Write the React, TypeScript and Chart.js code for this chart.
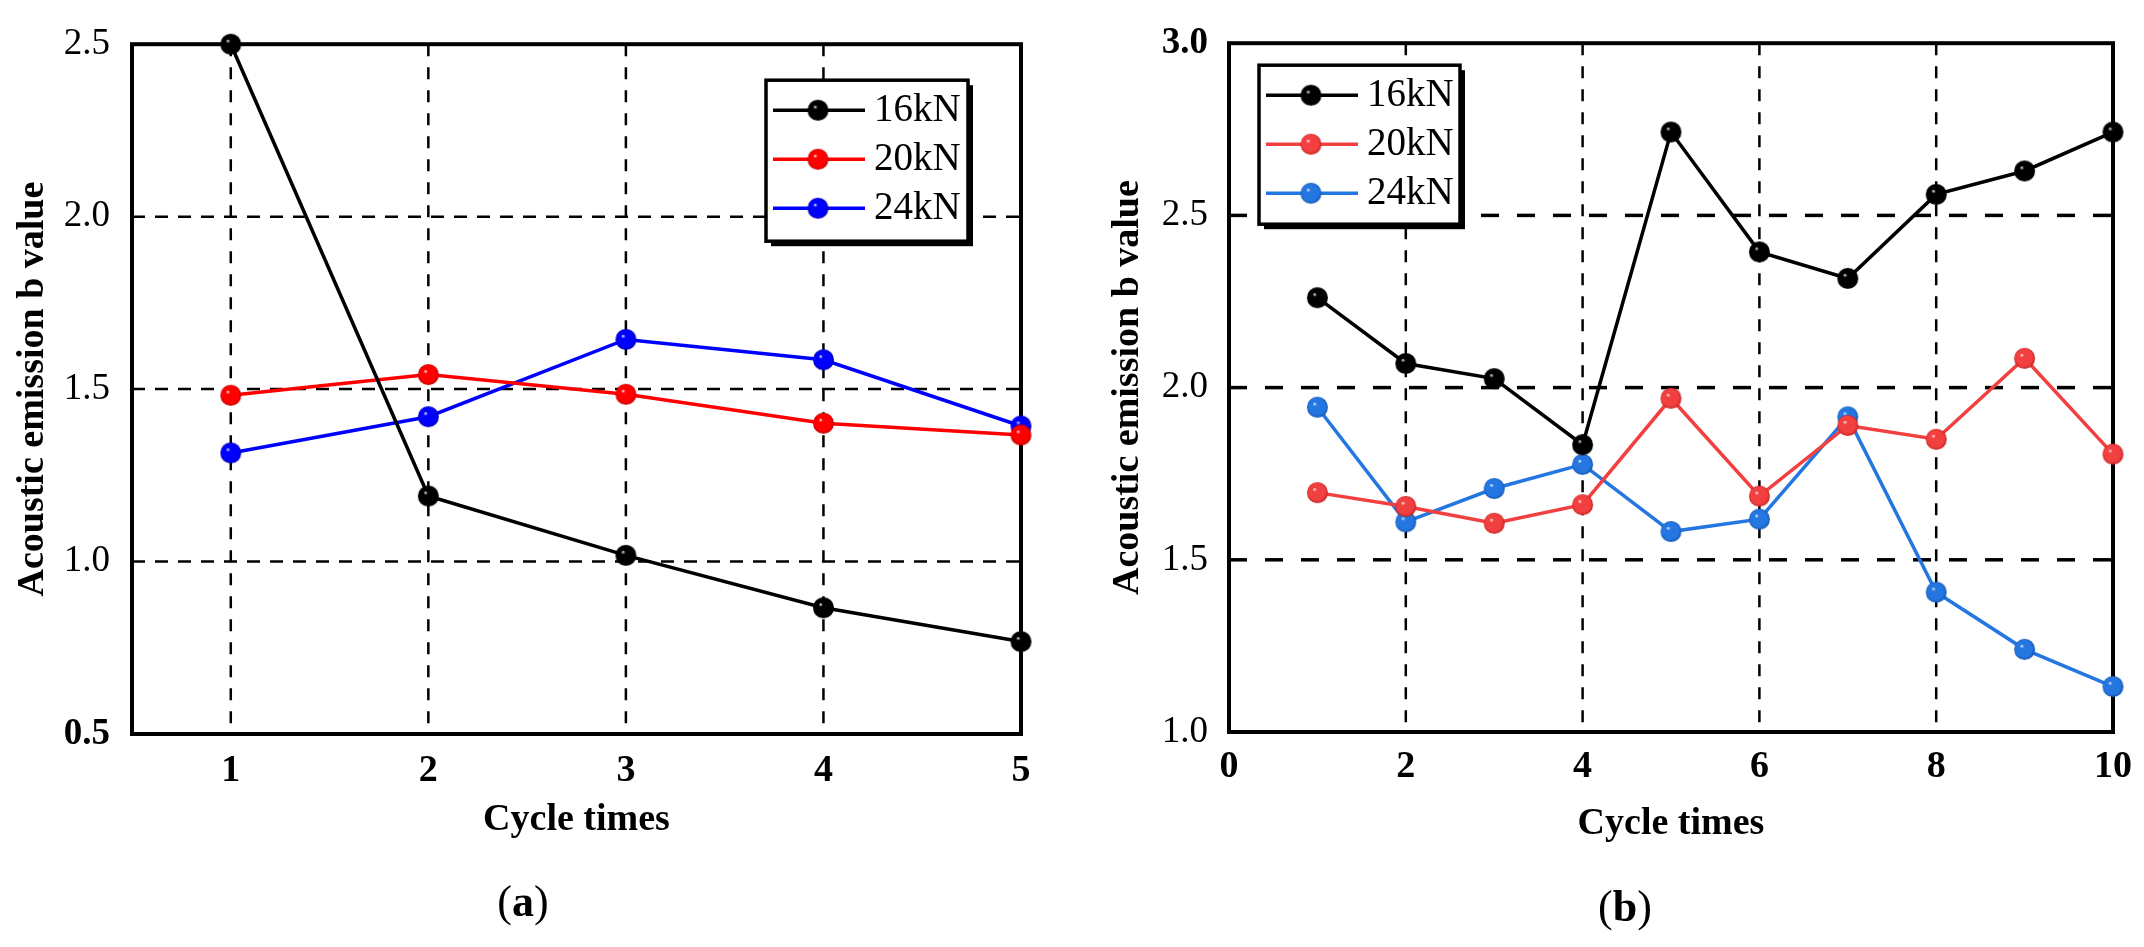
import React, { useEffect, useRef } from "react";
import { Chart, registerables } from "chart.js";

Chart.register(...registerables);

// ---------- data ----------
const seriesLabels = ["16kN", "20kN", "24kN"];

const cyclesA = [1, 2, 3, 4, 5];
const a16 = [2.5, 1.19, 1.018, 0.866, 0.768];
const a20 = [1.482, 1.542, 1.485, 1.401, 1.367];
const a24 = [1.315, 1.42, 1.644, 1.585, 1.393];
const xTicksA = [1, 2, 3, 4, 5];
const yTicksA = [0.5, 1.0, 1.5, 2.0, 2.5];

const cyclesB = [1, 2, 3, 4, 5, 6, 7, 8, 9, 10];
const b16 = [2.261, 2.07, 2.026, 1.834, 2.742, 2.394, 2.317, 2.561, 2.629, 2.742];
const b20 = [1.695, 1.655, 1.606, 1.66, 1.969, 1.685, 1.89, 1.85, 2.085, 1.807];
const b24 = [1.943, 1.61, 1.707, 1.777, 1.582, 1.618, 1.915, 1.406, 1.24, 1.132];
const xTicksB = [0, 2, 4, 6, 8, 10];
const yTicksB = [1.0, 1.5, 2.0, 2.5, 3.0];

const xTitle = "Cycle times";
const yTitle = "Acoustic emission b value";

// ---------- styling ----------
const SERIF = "'Liberation Serif', 'Times New Roman', serif";

function sphere(color: string, dark: string, r: number): HTMLCanvasElement {
  const c = document.createElement("canvas");
  const s = Math.ceil(r * 2 + 2);
  c.width = s;
  c.height = s;
  const g = c.getContext("2d")!;
  const cx = s / 2;
  const cy = s / 2;
  const grad = g.createRadialGradient(cx - r * 0.3, cy - r * 0.35, 0, cx, cy, r);
  grad.addColorStop(0, "rgba(255,255,255,0.95)");
  grad.addColorStop(0.2, color);
  grad.addColorStop(0.8, color);
  grad.addColorStop(1, dark);
  g.beginPath();
  g.arc(cx, cy, r, 0, Math.PI * 2);
  g.fillStyle = grad;
  g.fill();
  return c;
}

type GridOpts = {
  xTicks: number[];
  yTicks: number[];
  vDash: number[];
  hDash: number[];
  vWidth: number;
  hWidth: number;
  frameWidth: number;
};

function gridFramePlugin(o: GridOpts) {
  return {
    id: "gridFrame",
    beforeDatasetsDraw(chart: any) {
      const { ctx, chartArea: a, scales } = chart;
      const xs = scales.x;
      const ys = scales.y;
      ctx.save();
      ctx.strokeStyle = "#000";
      ctx.lineWidth = o.vWidth;
      ctx.setLineDash(o.vDash);
      o.xTicks.forEach((v) => {
        const px = xs.getPixelForValue(v);
        if (px <= a.left + 2 || px >= a.right - 2) return;
        ctx.beginPath();
        ctx.moveTo(px, a.top);
        ctx.lineTo(px, a.bottom);
        ctx.stroke();
      });
      ctx.lineWidth = o.hWidth;
      ctx.setLineDash(o.hDash);
      o.yTicks.forEach((v) => {
        const py = ys.getPixelForValue(v);
        if (py <= a.top + 2 || py >= a.bottom - 2) return;
        ctx.beginPath();
        ctx.moveTo(a.left, py);
        ctx.lineTo(a.right, py);
        ctx.stroke();
      });
      ctx.setLineDash([]);
      ctx.lineWidth = o.frameWidth;
      ctx.strokeRect(a.left, a.top, a.right - a.left, a.bottom - a.top);
      ctx.restore();
    },
  };
}

type LegendOpts = { dx: number; dy: number; w: number; h: number };

function boxLegendPlugin(o: LegendOpts) {
  return {
    id: "boxLegend",
    afterDatasetsDraw(chart: any) {
      const { ctx, chartArea: a } = chart;
      const x0 = a.left + o.dx;
      const y0 = a.top + o.dy;
      ctx.save();
      ctx.fillStyle = "#000";
      ctx.fillRect(x0 + 5, y0 + 5, o.w, o.h);
      ctx.fillStyle = "#fff";
      ctx.fillRect(x0, y0, o.w, o.h);
      ctx.lineWidth = 3.5;
      ctx.strokeStyle = "#000";
      ctx.strokeRect(x0, y0, o.w, o.h);
      const rows = [30, 79, 128];
      chart.data.datasets.forEach((ds: any, i: number) => {
        const y = y0 + rows[i];
        ctx.strokeStyle = ds.borderColor;
        ctx.lineWidth = ds.borderWidth;
        ctx.beginPath();
        ctx.moveTo(x0 + 7, y);
        ctx.lineTo(x0 + 99, y);
        ctx.stroke();
        const img = ds.pointStyle as HTMLCanvasElement;
        ctx.drawImage(img, x0 + 52 - img.width / 2, y - img.height / 2);
        ctx.fillStyle = "#000";
        ctx.font = `39px ${SERIF}`;
        ctx.textBaseline = "middle";
        ctx.textAlign = "left";
        ctx.fillText(ds.label, x0 + 108, y + 1);
      });
      ctx.restore();
    },
  };
}

function makeDatasets(xs: number[], series: number[][], colors: string[][]) {
  return series.map((vals, i) => ({
    label: seriesLabels[i],
    data: xs.map((x, j) => ({ x, y: vals[j] })),
    borderColor: colors[i][0],
    backgroundColor: colors[i][0],
    borderWidth: 3.5,
    pointStyle: sphere(colors[i][0], colors[i][1], 10.5),
    pointRadius: 10.5,
    tension: 0,
    clip: false as any,
  }));
}

type AxisCfg = {
  xMin: number;
  xMax: number;
  yMin: number;
  yMax: number;
  xTicks: number[];
  yTicks: number[];
  boldY: number;
  pad: { left: number; top: number; right: number; bottom: number };
  yWidth: number;
  xHeight: number;
  yTickPad: number;
  xTickPad: number;
};

function buildOptions(c: AxisCfg): any {
  return {
    animation: false,
    responsive: false,
    maintainAspectRatio: false,
    devicePixelRatio: 1,
    layout: { padding: c.pad },
    plugins: { legend: { display: false }, tooltip: { enabled: false } },
    scales: {
      x: {
        type: "linear",
        min: c.xMin,
        max: c.xMax,
        afterBuildTicks: (s: any) => {
          s.ticks = c.xTicks.map((v) => ({ value: v }));
        },
        afterFit: (s: any) => {
          s.height = c.xHeight;
        },
        grid: { display: false, drawTicks: false },
        border: { display: false },
        ticks: {
          autoSkip: false,
          maxRotation: 0,
          padding: c.xTickPad,
          color: "#000",
          font: { family: SERIF, size: 38, weight: "bold" },
          callback: (v: any) => String(v),
        },
        title: {
          display: true,
          text: xTitle,
          color: "#000",
          padding: 0,
          font: { family: SERIF, size: 38, weight: "bold" },
        },
      },
      y: {
        type: "linear",
        min: c.yMin,
        max: c.yMax,
        afterBuildTicks: (s: any) => {
          s.ticks = c.yTicks.map((v) => ({ value: v }));
        },
        afterFit: (s: any) => {
          s.width = c.yWidth;
        },
        grid: { display: false, drawTicks: false },
        border: { display: false },
        ticks: {
          autoSkip: false,
          padding: c.yTickPad,
          color: "#000",
          font: (ctx: any) => ({
            family: SERIF,
            size: 37,
            weight: ctx.tick && Math.abs(ctx.tick.value - c.boldY) < 1e-6 ? "bold" : "normal",
          }),
          callback: (v: any) => Number(v).toFixed(1),
        },
        title: {
          display: true,
          text: yTitle,
          color: "#000",
          padding: 0,
          font: { family: SERIF, size: 38, weight: "bold" },
        },
      },
    },
  };
}

export default function App() {
  const refA = useRef<HTMLCanvasElement>(null);
  const refB = useRef<HTMLCanvasElement>(null);

  useEffect(() => {
    const chartA = new Chart(refA.current!, {
      type: "line",
      data: {
        datasets: makeDatasets(cyclesA, [a16, a20, a24], [
          ["#000000", "#000000"],
          ["#ff0000", "#c00000"],
          ["#0000ff", "#0000b0"],
        ]) as any,
      },
      options: buildOptions({
        xMin: 0.5,
        xMax: 5,
        yMin: 0.5,
        yMax: 2.5,
        xTicks: xTicksA,
        yTicks: yTicksA,
        boldY: 0.5,
        pad: { left: 10, top: 33, right: 51, bottom: 104 },
        yWidth: 122,
        xHeight: 109,
        yTickPad: 22,
        xTickPad: 14,
      }),
      plugins: [
        gridFramePlugin({
          xTicks: xTicksA,
          yTicks: yTicksA,
          vDash: [12, 11],
          hDash: [13, 10],
          vWidth: 2.5,
          hWidth: 2.5,
          frameWidth: 4,
        }),
        boxLegendPlugin({ dx: 634, dy: 36, w: 202, h: 161 }),
      ],
    });

    const chartB = new Chart(refB.current!, {
      type: "line",
      data: {
        datasets: makeDatasets(cyclesB, [b16, b20, b24], [
          ["#000000", "#000000"],
          ["#f23f3f", "#c42222"],
          ["#2476e0", "#1455b0"],
        ]) as any,
      },
      options: buildOptions({
        xMin: 0,
        xMax: 10,
        yMin: 1.0,
        yMax: 3.0,
        xTicks: xTicksB,
        yTicks: yTicksB,
        boldY: 3.0,
        pad: { left: 33, top: 36, right: 27, bottom: 100 },
        yWidth: 124,
        xHeight: 115,
        yTickPad: 21,
        xTickPad: 12,
      }),
      plugins: [
        gridFramePlugin({
          xTicks: xTicksB,
          yTicks: yTicksB,
          vDash: [12, 11],
          hDash: [18, 18],
          vWidth: 2.5,
          hWidth: 3.5,
          frameWidth: 4,
        }),
        boxLegendPlugin({ dx: 30, dy: 22, w: 201, h: 159 }),
      ],
    });

    return () => {
      chartA.destroy();
      chartB.destroy();
    };
  }, []);

  const cap: React.CSSProperties = {
    position: "absolute",
    transform: "translate(-50%, -50%)",
    fontFamily: SERIF,
    fontSize: 44,
    lineHeight: 1,
    color: "#000",
    whiteSpace: "nowrap",
  };

  return (
    <div
      style={{
        position: "fixed",
        left: 0,
        top: 0,
        width: 2144,
        height: 947,
        background: "#fff",
        overflow: "hidden",
      }}
    >
      <canvas
        ref={refA}
        width={1072}
        height={947}
        style={{ position: "absolute", left: 0, top: 0, width: 1072, height: 947 }}
      />
      <canvas
        ref={refB}
        width={1072}
        height={947}
        style={{ position: "absolute", left: 1072, top: 0, width: 1072, height: 947 }}
      />
      <div style={{ ...cap, left: 523, top: 902 }}>
        (<b>a</b>)
      </div>
      <div style={{ ...cap, left: 1625, top: 907 }}>
        (<b>b</b>)
      </div>
    </div>
  );
}
